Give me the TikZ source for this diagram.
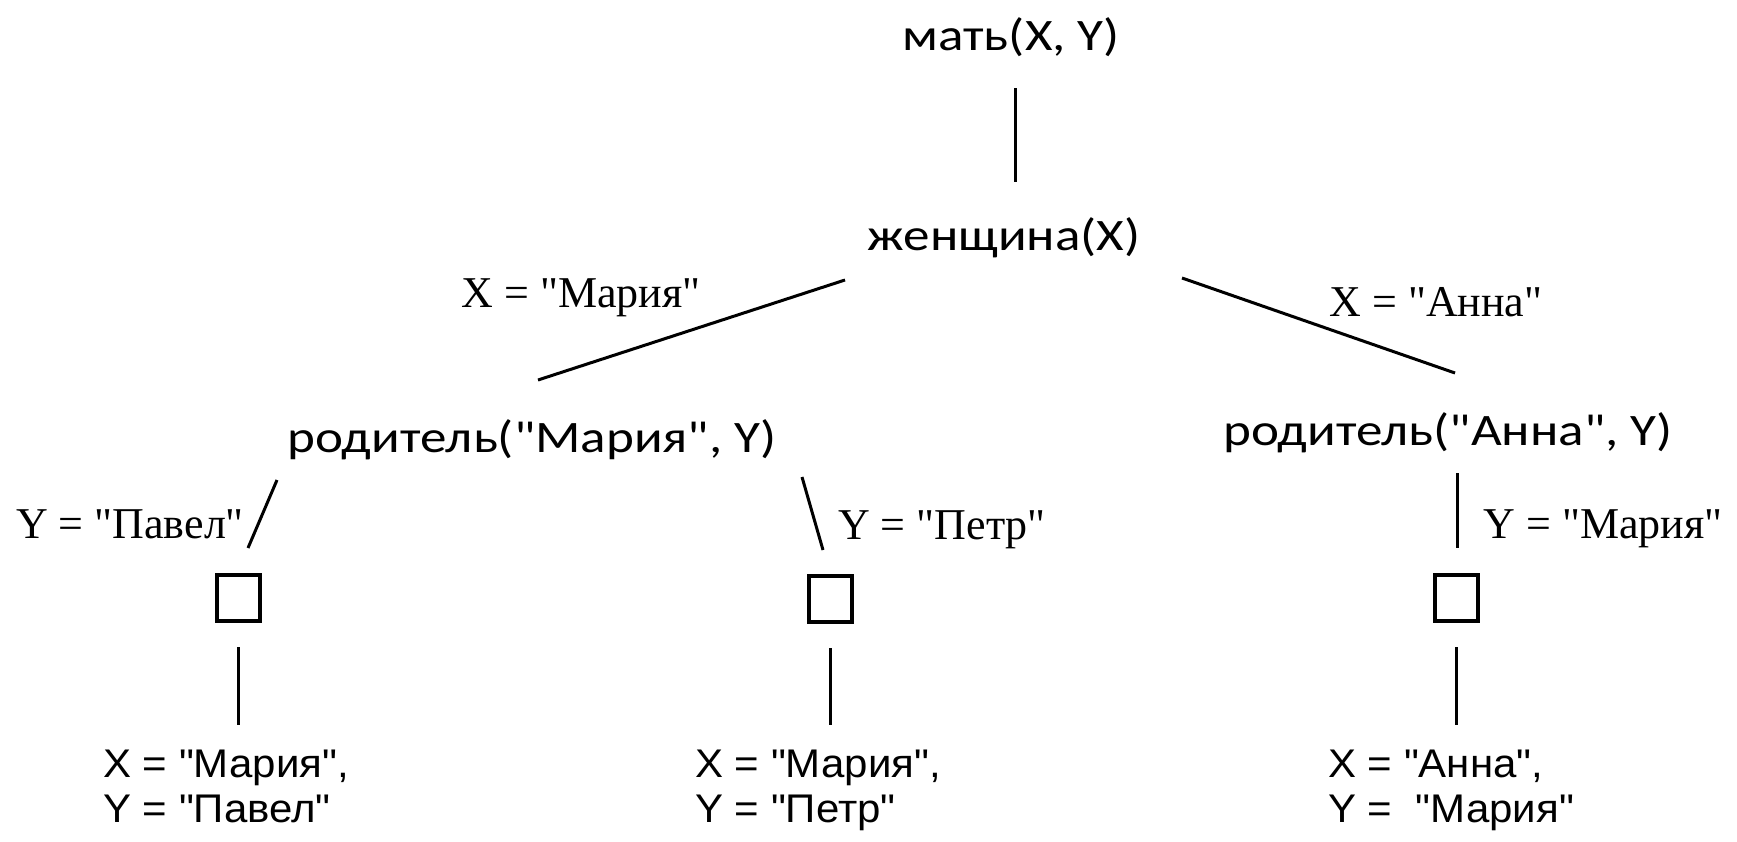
\documentclass[tikz,border=0pt]{standalone}
\usepackage{fontspec}
\newfontfamily\serfont{Liberation Serif}
\newfontfamily\calfont{Carlito}[FakeStretch=1.18]
\newfontfamily\arfont{Liberation Sans}[FakeStretch=1.05]
\usetikzlibrary{calc}
\begin{document}
\begin{tikzpicture}[x=1pt,y=1pt,
  goal/.style={font=\calfont\fontsize{45}{50}\selectfont, inner sep=0pt, anchor=base},
  bind/.style={font=\serfont\fontsize{44}{48}\selectfont, inner sep=0pt, anchor=base},
  leaf/.style={font=\arfont\fontsize{40}{45}\selectfont, inner sep=0pt, anchor=north west, align=left},
  sqbox/.style={draw, line width=4pt, minimum width=43pt, minimum height=46pt, inner sep=0pt},
  edge/.style={line width=3pt}]
\fill[white] (0,0) rectangle (1737,-841);
\useasboundingbox (0,0) rectangle (1737,-841);

% goals
\node[goal] (mat)  at (1011,-50)  {мать(X, Y)};
\node[goal] (zhen) at (1004,-250) {женщина(X)};
\node[goal] (rodM) at (532,-452)  {родитель("Мария", Y)};
\node[goal] (rodA) at (1448,-445) {родитель("Анна", Y)};

% bindings
\node[bind] (bXM)  at (581,-307)  {X = "Мария"};
\node[bind] (bXA)  at (1436,-316) {X = "Анна"};
\node[bind] (bYP)  at (130,-538)  {Y = "Павел"};
\node[bind] (bYPe) at (942,-539)  {Y = "Петр"};
\node[bind] (bYM)  at (1603,-538) {Y = "Мария"};

% success boxes
\node[sqbox] (s1) at (238,-598)  {};
\node[sqbox] (s2) at (830,-599)  {};
\node[sqbox] (s3) at (1456,-598) {};

% results
\node[leaf] (l1) at (103,-750)  {X = "Мария",\\Y = "Павел"};
\node[leaf] (l2) at (695,-750)  {X = "Мария",\\Y = "Петр"};
\node[leaf] (l3) at (1328,-750) {X = "Анна",\\Y = \ "Мария"};

% connectors
\draw[edge] ($(mat.base)+(4,-38)$) -- ($(zhen.base)+(11,68)$);
\draw[edge] ($(zhen.base)+(-159,-30)$) -- ($(rodM.base)+(6,72)$);
\draw[edge] ($(zhen.base)+(178,-28)$) -- ($(rodA.base)+(7,72)$);
\draw[edge] ($(rodM.base)+(-255,-28)$) -- ($(s1)+(10,50)$);
\draw[edge] ($(rodM.base)+(270,-25)$) -- ($(s2)+(-7,49)$);
\draw[edge] ($(rodA.base)+(9,-28)$) -- ($(s3)+(1,50)$);
\draw[edge] ($(s1)+(0,-49)$) -- ($(s1 |- l1.north)+(0,25)$);
\draw[edge] ($(s2)+(0,-49)$) -- ($(s2 |- l2.north)+(0,25)$);
\draw[edge] ($(s3)+(0,-49)$) -- ($(s3 |- l3.north)+(0,25)$);
\end{tikzpicture}
\end{document}
